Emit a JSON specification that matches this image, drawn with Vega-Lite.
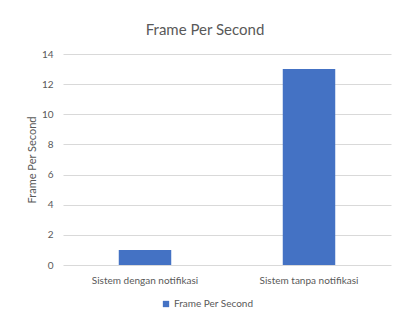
{
  "$schema": "https://vega.github.io/schema/vega-lite/v6.json",
  "autosize": "none",
  "width": 328,
  "height": 211,
  "padding": {"left": 63, "top": 54, "right": 7, "bottom": 56},
  "background": "white",
  "title": {
    "text": "Frame Per Second",
    "font": "Lato",
    "fontSize": 15,
    "fontWeight": "normal",
    "color": "#595959",
    "anchor": "middle",
    "offset": 11,
    "dx": -22
  },
  "data": {
    "values": [
      {"sistem": "Sistem dengan notifikasi", "fps": 1, "series": "Frame Per Second"},
      {"sistem": "Sistem tanpa notifikasi", "fps": 13, "series": "Frame Per Second"}
    ]
  },
  "mark": {"type": "bar"},
  "encoding": {
    "x": {
      "field": "sistem",
      "type": "nominal",
      "sort": null,
      "scale": {"paddingInner": 0.68, "paddingOuter": 0.34},
      "axis": {
        "title": null,
        "labelAngle": 0,
        "ticks": false,
        "domain": false,
        "labelPadding": 10,
        "labelFont": "Lato",
        "labelFontSize": 10,
        "labelColor": "#595959"
      }
    },
    "y": {
      "field": "fps",
      "type": "quantitative",
      "scale": {"domain": [0, 14]},
      "axis": {
        "title": "Frame Per Second",
        "values": [0, 2, 4, 6, 8, 10, 12, 14],
        "ticks": false,
        "domain": false,
        "labelPadding": 10,
        "labelFont": "Lato",
        "labelFontSize": 10,
        "labelColor": "#595959",
        "titleFont": "Lato",
        "titleFontSize": 11,
        "titleFontWeight": "normal",
        "titleColor": "#595959",
        "titlePadding": 4,
        "gridColor": "#d9d9d9",
        "gridWidth": 1
      }
    },
    "color": {
      "field": "series",
      "type": "nominal",
      "scale": {"range": ["#4472C4"]},
      "legend": {
        "title": null,
        "orient": "none",
        "legendX": 98,
        "legendY": 245,
        "symbolType": "square",
        "symbolSize": 40,
        "labelFont": "Lato",
        "labelFontSize": 10,
        "labelColor": "#595959",
        "labelOffset": 3
      }
    }
  },
  "config": {
    "view": {"stroke": null}
  }
}
